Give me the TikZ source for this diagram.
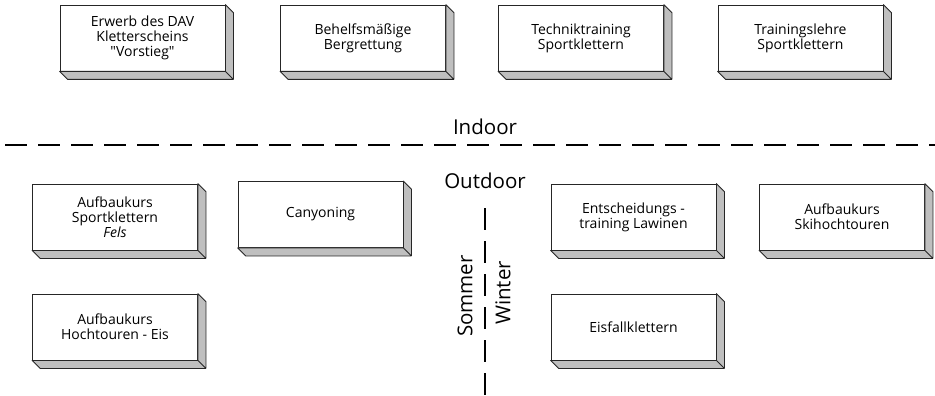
\documentclass[tikz,border=0pt]{standalone}
\usepackage{fontspec}
\setmainfont{Open Sans}
\usepackage{tikz}

\begin{document}
\begin{tikzpicture}[x=1pt,y=-1pt,
	kurs/.style={draw=black!85, line width=0.8pt, fill=white, align=center,
		minimum width=165pt, minimum height=66pt, inner sep=0pt,
		font=\fontsize{14}{15}\selectfont},
	seite/.style={draw=black!85, line width=0.8pt, fill=black!25, line join=round},
	grenze/.style={line width=2.4pt, dash pattern=on 22pt off 11pt},
	bereich/.style={font=\fontsize{20.5}{22}\selectfont}]
\useasboundingbox (0,0) rectangle (935,396);

\path (142.5,38) node[kurs] (dav) {Erwerb des DAV\\Kletterscheins\\\textquotedbl Vorstieg\textquotedbl}
		(363,38) node[kurs] (berg) {Behelfsmäßige\\Bergrettung}
		(581,38) node[kurs] (technik) {Techniktraining\\Sportklettern}
		(800.5,38) node[kurs] (lehre) {Trainingslehre\\Sportklettern}
		(115,217) node[kurs] (fels) {Aufbaukurs\\Sportklettern\\\textit{Fels}}
		(320.5,214.5) node[kurs] (canyon) {Canyoning}
		(115,327) node[kurs] (eis) {Aufbaukurs\\Hochtouren - Eis}
		(633.5,217) node[kurs] (lawine) {Entscheidungs -\\training Lawinen}
		(842,217) node[kurs] (ski) {Aufbaukurs\\Skihochtouren}
		(633.5,327) node[kurs] (eisfall) {Eisfallklettern}
		(485,127) node[bereich] (indoor) {Indoor}
		(485,181) node[bereich] (outdoor) {Outdoor}
		(465,296) node[bereich, rotate=90] (sommer) {Sommer}
		(503,293) node[bereich, rotate=90] (winter) {Winter}
		;

\foreach \k in {dav,berg,technik,lehre,fels,canyon,eis,lawine,ski,eisfall}
	\draw[seite] (\k.north east) -- ([shift={(8,8)}]\k.north east) -- ([shift={(8,8)}]\k.south east)
		-- ([shift={(8,8)}]\k.south west) -- (\k.south west) -- (\k.south east) -- cycle
		(\k.south east) -- ([shift={(8,8)}]\k.south east);

\coordinate (io-links) at (5,145);
\coordinate (io-rechts) at (935,145);
\coordinate (sw-oben) at (485,208);
\coordinate (sw-unten) at (485,396);
\draw[grenze] (io-links) -- (io-rechts);
\draw[grenze, line width=2pt] (sw-oben) -- (sw-unten);
\end{tikzpicture}
\end{document}
